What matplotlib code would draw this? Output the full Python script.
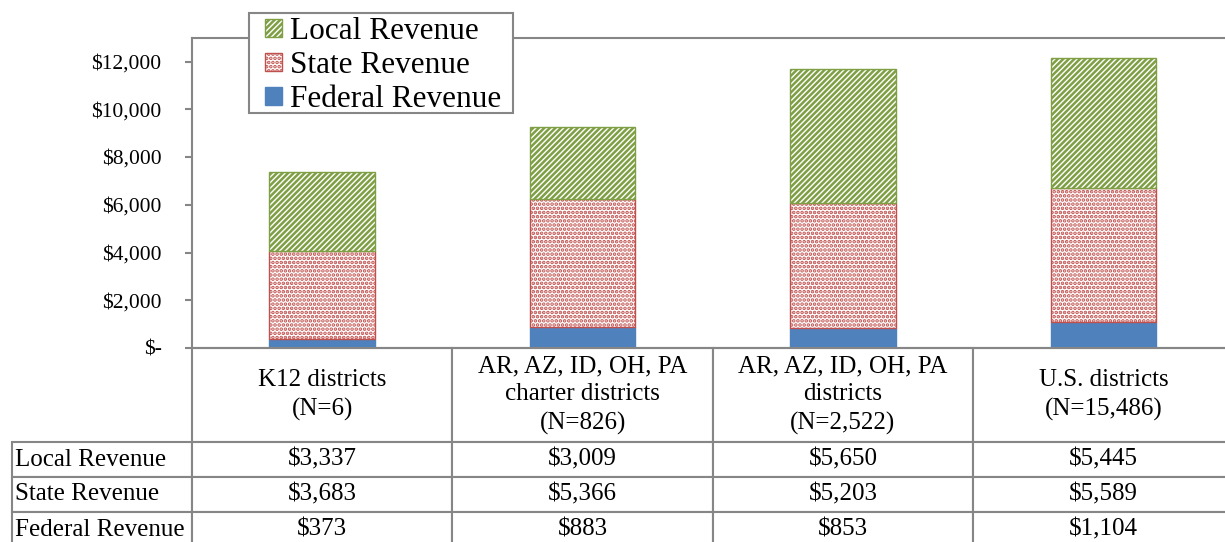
import numpy as np
import matplotlib
matplotlib.use("Agg")
import matplotlib.pyplot as plt
from matplotlib.table import Table
from matplotlib.patches import Rectangle

plt.rcParams["font.family"] = ["Liberation Serif", "DejaVu Serif"]
plt.rcParams["hatch.linewidth"] = 1.8

categories = ["K12 districts\n(N=6)",
              "AR, AZ, ID, OH, PA\ncharter districts\n(N=826)",
              "AR, AZ, ID, OH, PA\ndistricts\n(N=2,522)",
              "U.S. districts\n(N=15,486)"]
local = [3337, 3009, 5650, 5445]
state = [3683, 5366, 5203, 5589]
federal = [373, 883, 853, 1104]
yticks = [0, 2000, 4000, 6000, 8000, 10000, 12000]
ytick_labels = ["$-", "$2,000", "$4,000", "$6,000", "$8,000", "$10,000", "$12,000"]

grey = "#868686"
W, H = 1225, 542
fig = plt.figure(figsize=(W / 100, H / 100), dpi=100)
ax = fig.add_axes([192 / W, 194 / H, 1041.6 / W, 310.3 / H])

x = np.arange(len(categories))
fed = np.array(federal)
sta = np.array(state)
loc = np.array(local)

ax.bar(x, fed, 0.405, color="#4F81BD", edgecolor="#4F81BD", linewidth=1,
       label="Federal Revenue", zorder=2)
ax.bar(x, sta, 0.405, bottom=fed, color="white", edgecolor="#C0504D",
       hatch="....", linewidth=1, label="State Revenue", zorder=2)
ax.bar(x, loc, 0.405, bottom=fed + sta, color="white", edgecolor="#7F9F45",
       hatch="//////", linewidth=1, label="Local Revenue", zorder=2)

ax.set_xlim(-0.5, 3.5)
ax.set_ylim(0, 13000)
ax.set_xticks([])
ax.set_yticks(yticks)
ax.set_yticklabels(ytick_labels, fontsize=15.5)
ax.tick_params(axis="y", length=5, width=1.5, color=grey, pad=17)
for s in ax.spines.values():
    s.set_color(grey)
    s.set_linewidth(1.5)

# data table under the axis
row_labels = ["Local Revenue", "State Revenue", "Federal Revenue"]
rows = [local, state, federal]
lab_w = 180 / 1041.6
tab_h = 199 / 310.3
tbl = Table(ax, bbox=[-lab_w, -tab_h, 1 + lab_w, tab_h])
for j, cat in enumerate(categories):
    c = tbl.add_cell(0, j + 1, 0.25, 94, text=cat, loc="center")
    c.get_text().set_linespacing(1.35)
corner = tbl.add_cell(0, 0, lab_w, 94, text="")
corner.visible_edges = ""
for i, (name, vals) in enumerate(zip(row_labels, rows)):
    c = tbl.add_cell(i + 1, 0, lab_w, 35, text=name, loc="left")
    c.PAD = 0.015
    for j, v in enumerate(vals):
        tbl.add_cell(i + 1, j + 1, 0.25, 35, text=f"${v:,}", loc="center")
tbl.auto_set_font_size(False)
tbl.set_fontsize(18)
for cell in tbl.get_celld().values():
    cell.set_edgecolor(grey)
    cell.set_linewidth(1.5)
ax.add_table(tbl)

# legend box (frame drawn separately so the inner padding can differ)
frame = Rectangle((249 / W, 1 - 113 / H), 264 / W, 100.3 / H,
                  transform=fig.transFigure, facecolor="white",
                  edgecolor=grey, linewidth=1.5, zorder=9)
fig.add_artist(frame)
handles, labels = ax.get_legend_handles_labels()
leg = fig.legend(handles[::-1], labels[::-1], loc="upper left",
                 bbox_to_anchor=(265 / W, 1 - 17 / H), fontsize=22.5,
                 frameon=False, borderaxespad=0, borderpad=0.0,
                 labelspacing=0.16, handlelength=0.55, handleheight=0.55,
                 handletextpad=0.25)
leg.set_zorder(10)

fig.savefig("out.png", dpi=100)
